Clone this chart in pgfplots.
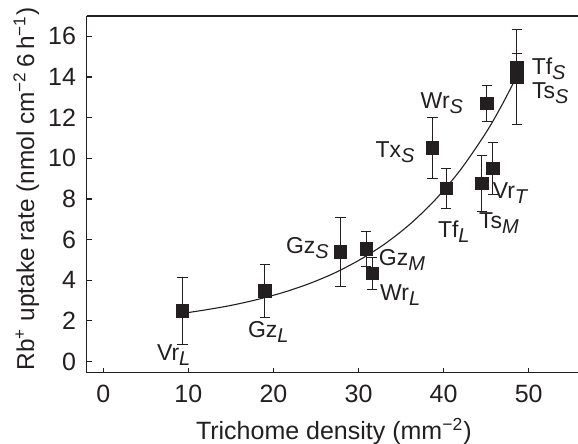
\documentclass[border=0pt]{standalone}
\usepackage{pgfplots}
\pgfplotsset{compat=1.18}
\usepackage{fontspec}
\setmainfont{Liberation Sans}

\definecolor{ink}{HTML}{231F20}
% label with an italic subscript, e.g. Vr_L
\newcommand{\lab}[2]{#1\raisebox{-0.4ex}{\fontsize{10}{11}\selectfont\itshape #2}}

% trichome density, uptake rate, error
\pgfplotstableread{
x     y      e
9.3   2.50   1.64
19.0  3.47   1.28
27.9  5.39   1.68
30.9  5.54   0.85
31.6  4.34   0.78
40.3  8.52   1.00
44.5  8.77   1.37
45.8  9.50   1.29
38.7  10.52  1.50
45.1  12.70  0.90
48.6  14.45  0.70
48.6  14.00  2.35
}\uptake

\begin{document}
\begin{tikzpicture}
\begin{axis}[
    scale only axis,
    width=245.65pt, height=178.35pt,
    xmin=-1.95, xmax=55.8,
    ymin=-0.55, ymax=17,
    axis x line*=bottom, axis y line*=left,
    axis line style={-, line width=0.6pt, color=ink},
    tick align=inside,
    major tick length=2.5pt,
    tick style={line width=0.6pt, color=ink},
    xtick={0,10,...,50},
    ytick={0,2,...,16},
    /pgf/number format/assume math mode=true,
    tick label style={font=\fontsize{12.5}{14}\selectfont, color=ink},
    xticklabel style={yshift=-2.7pt},
    yticklabel style={xshift=-1.8pt},
    xlabel={Trichome density (mm\textsuperscript{−2})},
    ylabel={Rb\textsuperscript{+} uptake rate (nmol cm\textsuperscript{−2}\,6\,h\textsuperscript{−1})},
    every axis x label/.style={at={(axis description cs:0.503,-0.1654)}, anchor=center,
        font=\fontsize{12.5}{14}\selectfont, text=ink},
    every axis y label/.style={at={(axis description cs:-0.123,0.515)}, rotate=90, anchor=center,
        font=\fontsize{12.2}{14}\selectfont, text=ink},
    clip=false,
]
% fitted curve
\addplot[line width=0.55pt, color=ink, smooth] coordinates {
(9.5,2.38) (12,2.54) (15,2.76) (18,3.04) (21,3.38) (24,3.80) (27,4.32)
(30,4.97) (33,5.76) (36,6.74) (39,7.95) (42,9.44) (45,11.27) (47,12.73) (48.5,13.96)
};
\addplot[only marks, mark=square*, mark size=3.1pt, color=ink,
    error bars/.cd, y dir=both, y explicit,
    error bar style={line width=0.5pt, color=ink},
    error mark options={rotate=90, mark size=2.6pt, line width=0.5pt, color=ink}]
    table[x=x, y=y, y error=e] {\uptake};

\draw[line width=0.6pt, color=ink] (rel axis cs:0,1) -- (rel axis cs:1,1);

\begin{scope}[every node/.style={font=\fontsize{11.5}{12}\selectfont, text=ink, inner sep=0pt}]
\node at (axis cs:8.27,0.33) {\lab{Vr}{L}};
\node at (axis cs:19.4,1.47) {\lab{Gz}{L}};
\node at (axis cs:24.0,5.57) {\lab{Gz}{S}};
\node at (axis cs:35.1,5.0) {\lab{Gz}{M}};
\node at (axis cs:34.9,3.28) {\lab{Wr}{L}};
\node at (axis cs:41.2,6.39) {\lab{Tf}{L}};
\node at (axis cs:46.5,6.8) {\lab{Ts}{M}};
\node at (axis cs:47.8,8.27) {\lab{Vr}{T}};
\node at (axis cs:34.3,10.32) {\lab{Tx}{S}};
\node at (axis cs:39.8,12.70) {\lab{Wr}{S}};
\node at (axis cs:52.35,14.4) {\lab{Tf}{S}};
\node at (axis cs:52.55,13.2) {\lab{Ts}{S}};
\end{scope}
\end{axis}
\pgfresetboundingbox
\path[use as bounding box] ([shift={(-43.35pt,-35.65pt)}]current axis.south west) rectangle ([shift={(0pt,8pt)}]current axis.north east);
\end{tikzpicture}
\end{document}
